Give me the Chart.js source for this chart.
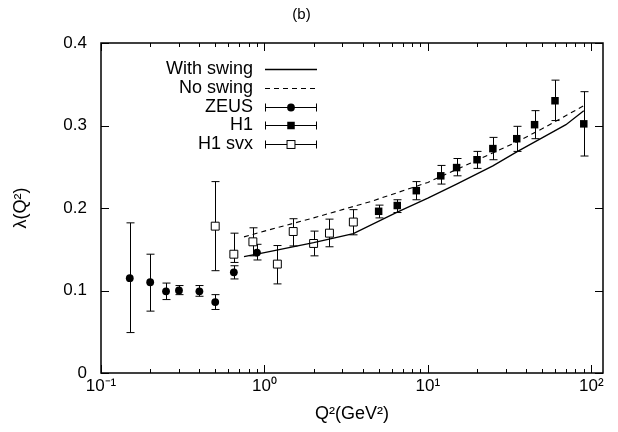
<!DOCTYPE html>
<html>
<head>
<meta charset="utf-8">
<script src="https://cdn.jsdelivr.net/npm/chart.js@4/dist/chart.umd.min.js"></script>
<style>
  html, body { margin: 0; padding: 0; background: #ffffff; }
  #c { display: block; }
</style>
</head>
<body>
<canvas id="c" width="618" height="432"></canvas>
<script>
// ---- data ----
const xTickValues = [0.1, 1, 10, 100];
const xTickLabels = ['10\u207B\u00B9', '10\u2070', '10\u00B9', '10\u00B2'];
const yTickValues = [0, 0.1, 0.2, 0.3, 0.4];
const yTickLabels = ['0', '0.1', '0.2', '0.3', '0.4'];

const swingQ2 = [0.75, 1, 2, 3.5, 6.5, 10, 15, 25, 35, 50, 70, 90];
const swingLambda = [0.141, 0.146, 0.158, 0.169, 0.195, 0.212, 0.229, 0.251, 0.268, 0.285, 0.301, 0.318];

const noSwingQ2 = [0.75, 1, 2, 4.5, 10, 20, 35, 50, 90];
const noSwingLambda = [0.165, 0.172, 0.188, 0.208, 0.231, 0.258, 0.280, 0.296, 0.324];

const zeusQ2 = [0.15, 0.2, 0.25, 0.3, 0.4, 0.5, 0.65, 0.9];
const zeusLambda = [0.115, 0.110, 0.099, 0.100, 0.099, 0.086, 0.122, 0.146];
const zeusLow = [0.049, 0.075, 0.089, 0.095, 0.093, 0.077, 0.114, 0.137];
const zeusHigh = [0.182, 0.144, 0.109, 0.106, 0.106, 0.095, 0.130, 0.156];

const h1Q2 = [5, 6.5, 8.5, 12, 15, 20, 25, 35, 45, 60, 90];
const h1Lambda = [0.196, 0.203, 0.221, 0.239, 0.249, 0.2585, 0.272, 0.284, 0.301, 0.330, 0.302];
const h1Low = [0.188, 0.1945, 0.210, 0.229, 0.239, 0.248, 0.2585, 0.2686, 0.284, 0.306, 0.263];
const h1High = [0.2035, 0.210, 0.232, 0.2516, 0.260, 0.2686, 0.2856, 0.299, 0.318, 0.355, 0.341];

const svxQ2 = [0.5, 0.65, 0.85, 1.2, 1.5, 2.0, 2.5, 3.5];
const svxLambda = [0.178, 0.144, 0.159, 0.132, 0.1715, 0.157, 0.1695, 0.183];
const svxLow = [0.124, 0.134, 0.142, 0.108, 0.154, 0.142, 0.153, 0.1675];
const svxHigh = [0.232, 0.1695, 0.176, 0.1545, 0.187, 0.172, 0.1865, 0.198];

// ---- helpers ----
const FONT = "'Liberation Sans', Arial, Helvetica, sans-serif";
function pts(xs, ys) { return xs.map((x, i) => ({ x: x, y: ys[i] })); }

const datasets = [
  { label: 'With swing', data: pts(swingQ2, swingLambda), showLine: true, borderColor: '#000', borderWidth: 1.3,
    pointRadius: 0, fill: false, tension: 0, legendKind: 'line', dash: [] },
  { label: 'No swing', data: pts(noSwingQ2, noSwingLambda), showLine: true, borderColor: '#000', borderWidth: 1.1,
    borderDash: [5, 4], pointRadius: 0, fill: false, tension: 0, legendKind: 'line', dash: [5, 4] },
  { label: 'ZEUS', data: pts(zeusQ2, zeusLambda), errLow: zeusLow, errHigh: zeusHigh, showLine: false,
    pointStyle: 'circle', pointRadius: 3.9, backgroundColor: '#000', borderColor: '#000', borderWidth: 0,
    legendKind: 'err' },
  { label: 'H1', data: pts(h1Q2, h1Lambda), errLow: h1Low, errHigh: h1High, showLine: false,
    pointStyle: 'rect', pointRadius: 5.3, backgroundColor: '#000', borderColor: '#000', borderWidth: 0,
    legendKind: 'err' },
  { label: 'H1 svx', data: pts(svxQ2, svxLambda), errLow: svxLow, errHigh: svxHigh, showLine: false,
    pointStyle: 'rect', pointRadius: 5.6, backgroundColor: '#fff', borderColor: '#000', borderWidth: 1,
    legendKind: 'err' }
];

const CAP = 4;

function drawMarker(ctx, ds, x, y) {
  ctx.save();
  ctx.lineWidth = ds.borderWidth || 1;
  ctx.fillStyle = ds.backgroundColor;
  ctx.strokeStyle = ds.borderColor;
  if (ds.pointStyle === 'circle') {
    ctx.beginPath();
    ctx.arc(x, y, ds.pointRadius, 0, Math.PI * 2);
    ctx.fill();
  } else {
    const s = Math.SQRT1_2 * ds.pointRadius;
    ctx.fillRect(x - s, y - s, 2 * s, 2 * s);
    if (ds.borderWidth) ctx.strokeRect(x - s, y - s, 2 * s, 2 * s);
  }
  ctx.restore();
}

const physPlugin = {
  id: 'physPlugin',
  beforeDatasetsDraw(chart) {
    const ctx = chart.ctx, xs = chart.scales.x, ys = chart.scales.y;
    ctx.save();
    ctx.strokeStyle = '#000';
    ctx.lineWidth = 1;
    chart.data.datasets.forEach(ds => {
      if (!ds.errLow) return;
      ds.data.forEach((p, i) => {
        const px = Math.round(xs.getPixelForValue(p.x)) + 0.5;
        const y1 = ys.getPixelForValue(ds.errLow[i]);
        const y2 = ys.getPixelForValue(ds.errHigh[i]);
        ctx.beginPath();
        ctx.moveTo(px, y1); ctx.lineTo(px, y2);
        ctx.moveTo(px - CAP, y1); ctx.lineTo(px + CAP, y1);
        ctx.moveTo(px - CAP, y2); ctx.lineTo(px + CAP, y2);
        ctx.stroke();
      });
    });
    ctx.restore();
  },
  afterDatasetsDraw(chart) {
    const ctx = chart.ctx, xs = chart.scales.x, ys = chart.scales.y, a = chart.chartArea;
    ctx.save();
    ctx.strokeStyle = '#000';
    // frame
    ctx.lineWidth = 1.5;
    ctx.strokeRect(a.left, a.top, a.right - a.left, a.bottom - a.top);
    // inward ticks
    ctx.lineWidth = 1;
    ctx.beginPath();
    for (let e = -1; e <= 2; e++) {
      for (let m = 1; m <= 9; m++) {
        const v = m * Math.pow(10, e);
        if (v < xs.min - 1e-9 || v > xs.max) continue;
        const px = Math.round(xs.getPixelForValue(v)) + 0.5;
        const len = (m === 1) ? 8 : 4;
        ctx.moveTo(px, a.bottom); ctx.lineTo(px, a.bottom - len);
        ctx.moveTo(px, a.top); ctx.lineTo(px, a.top + len);
      }
    }
    yTickValues.forEach(v => {
      const py = Math.round(ys.getPixelForValue(v)) + 0.5;
      ctx.moveTo(a.left, py); ctx.lineTo(a.left + 8, py);
      ctx.moveTo(a.right, py); ctx.lineTo(a.right - 8, py);
    });
    ctx.stroke();

    // legend (gnuplot style: right-aligned text, sample to the right)
    const textRight = 253, sx1 = 265, sx2 = 317, top0 = 69, step = 18.8;
    ctx.font = '18px ' + FONT;
    ctx.fillStyle = '#000';
    ctx.textAlign = 'right';
    ctx.textBaseline = 'middle';
    chart.data.datasets.forEach((ds, i) => {
      const y = top0 + i * step;
      ctx.fillText(ds.label, textRight, y);
      const yy = Math.round(y) + 0.5;
      ctx.save();
      ctx.strokeStyle = '#000';
      if (ds.legendKind === 'line') {
        ctx.lineWidth = ds.borderWidth;
        ctx.setLineDash(ds.dash);
        ctx.beginPath();
        ctx.moveTo(sx1, yy); ctx.lineTo(sx2, yy);
        ctx.stroke();
      } else {
        ctx.lineWidth = 1;
        ctx.beginPath();
        ctx.moveTo(sx1, yy); ctx.lineTo(sx2, yy);
        ctx.moveTo(sx1 + 0.5, yy - CAP); ctx.lineTo(sx1 + 0.5, yy + CAP);
        ctx.moveTo(sx2 - 0.5, yy - CAP); ctx.lineTo(sx2 - 0.5, yy + CAP);
        ctx.stroke();
        drawMarker(ctx, ds, (sx1 + sx2) / 2, yy);
      }
      ctx.restore();
    });
    ctx.restore();
  }
};

Chart.defaults.font.family = FONT;
Chart.defaults.color = '#000';

new Chart(document.getElementById('c'), {
  type: 'scatter',
  data: { datasets: datasets },
  options: {
    responsive: false,
    animation: false,
    events: [],
    layout: { padding: { left: 0, right: 15, top: 0, bottom: 0 } },
    plugins: {
      legend: { display: false },
      tooltip: { enabled: false },
      title: {
        display: true, text: '(b)', color: '#000',
        font: { size: 15, weight: 'normal', family: FONT },
        padding: { top: 6, bottom: 19 }
      }
    },
    scales: {
      x: {
        type: 'logarithmic',
        min: 0.1, max: 118,
        grid: { display: false, drawTicks: false },
        border: { display: false },
        afterBuildTicks(scale) { scale.ticks = xTickValues.map(v => ({ value: v, major: true })); },
        afterFit(scale) { scale.height = 59; },
        ticks: {
          padding: 3, autoSkip: false, maxRotation: 0,
          font: { size: 17, family: FONT }, color: '#000',
          callback(value) { const i = xTickValues.indexOf(value); return i >= 0 ? xTickLabels[i] : ''; }
        },
        title: {
          display: true, text: 'Q\u00B2(GeV\u00B2)', color: '#000',
          font: { size: 18, family: FONT }, padding: { top: 0, bottom: 7 }
        }
      },
      y: {
        type: 'linear',
        min: 0, max: 0.4,
        grid: { display: false, drawTicks: false },
        border: { display: false },
        afterBuildTicks(scale) { scale.ticks = yTickValues.map(v => ({ value: v })); },
        afterFit(scale) { scale.width = 101; },
        ticks: {
          padding: 14,
          font: { size: 17, family: FONT }, color: '#000',
          callback(value) { const i = yTickValues.findIndex(v => Math.abs(v - value) < 1e-9); return i >= 0 ? yTickLabels[i] : ''; }
        },
        title: {
          display: true, text: '\u03BB(Q\u00B2)', color: '#000',
          font: { size: 18, family: FONT }, padding: { top: 10, bottom: 0 }
        }
      }
    }
  },
  plugins: [physPlugin]
});
</script>
</body>
</html>
